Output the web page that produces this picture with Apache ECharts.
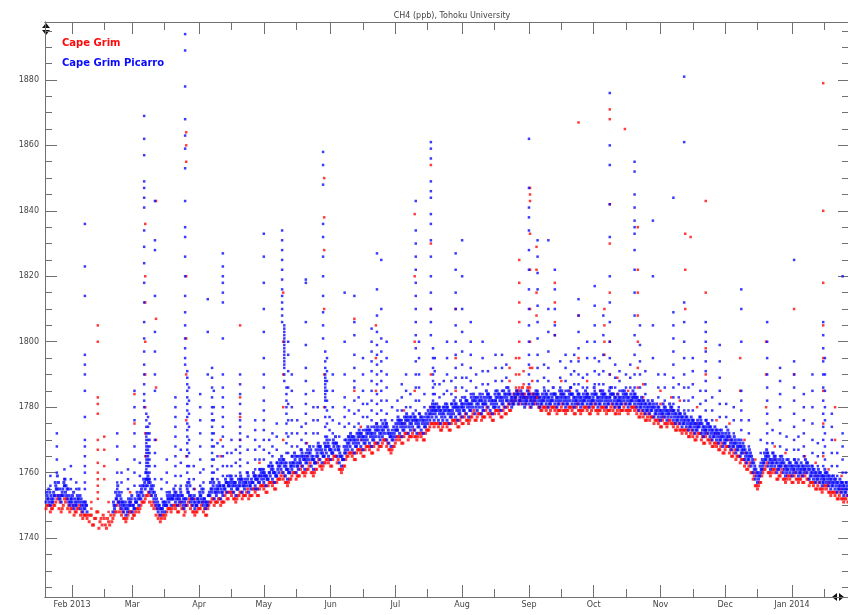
<!DOCTYPE html>
<html>
<head>
<meta charset="utf-8">
<script src="https://cdn.jsdelivr.net/npm/echarts@6/dist/echarts.min.js"></script>
<style>html,body{margin:0;padding:0;background:#fff}#c{width:848px;height:615px}</style>
</head>
<body>
<div id="c"></div>
<script>
// ---------- DATA ----------
// Days counted from 2013-01-01 (day 0). Daily series start at day 19.
const FIRST_DAY = 19;
const xMin = '2013-01-19T12:00', xMax = '2014-01-27T00:00';
const yMin = 1722, yMax = 1897.7;
const yLabels = [1740, 1760, 1780, 1800, 1820, 1840, 1860, 1880];
const monthTicks = ['2013-02-01','2013-03-01','2013-04-01','2013-05-01','2013-06-01','2013-07-01','2013-08-01','2013-09-01','2013-10-01','2013-11-01','2013-12-01','2014-01-01'];
const monthLabels = ['Feb 2013','Mar','Apr','May','Jun','Jul','Aug','Sep','Oct','Nov','Dec','Jan 2014'];
const midTicks = ['2013-02-16','2013-03-16','2013-04-16','2013-05-16','2013-06-16','2013-07-16','2013-08-16','2013-09-16','2013-10-16','2013-11-16','2013-12-16','2014-01-16'];

// Cape Grim Picarro (blue): daily values at 00h
const picarroA = [
1751,1752,1750,1751,1753,1755,1752,1751,1753,1754,
1752,1750,1751,1749,1750,1752,1749,1748,1749,1748,
null,null,null,null,null,null,null,null,null,null,
null,1748,1750,1753,1751,1749,1748,1747,1749,1750,
1748,1749,1751,1750,1752,1753,1755,1756,1754,1753,
1752,1750,1748,1747,1749,1748,1750,1751,1750,1752,
1751,1750,1752,1751,1749,1752,1754,1751,1750,1749,
1750,1751,1752,1750,1749,1751,1753,1754,1752,1753,
1754,1752,1753,1755,1754,1756,1755,1754,1753,1755,
1756,1754,1755,1756,1754,1755,1757,1756,1755,1757,
1758,1757,1756,1758,1759,1758,1757,1759,1760,1761,
1760,1759,1758,1760,1761,1762,1760,1761,1763,1762,
1761,1763,1764,1762,1761,1763,1765,1764,1763,1765,
1766,1765,1764,1766,1767,1765,1763,1762,1764,1766,
1767,1768,1767,1766,1768,1769,1768,1767,1769,1770,
1769,1768,1770,1771,1769,1770,1771,1772,1770,1769,
1768,1770,1771,1773,1772,1771,1773,1774,1772,1773,
1774,1773,1772,1774,1773,1772,1774,1775,1776,1777,
1776,1777,1776,1775,1776,1777,1776,1775,1777,1778,
1777,1776,1778,1777,1779,1778,1777,1779,1780,1778,
1779,1780,1778,1779,1781,1780,1779,1778,1780,1781,
1780,1779,1781,1780,1782,1781,1780,1781,1782,1781,
1782,1781,1780,1782,1781,1780,1781,1782,1781,1780,
1781,1782,1781,1780,1781,1782,1781,1780,1781,1782,
1781,1780,1781,1782,1781,1780,1782,1781,1780,1781,
1782,1781,1780,1781,1782,1781,1780,1781,1782,1781,
1780,1781,1782,1781,1780,1781,1780,1781,1782,1781,
1780,1781,1782,1781,1780,1779,1780,1779,1778,1779,
1778,1779,1777,1778,1777,1776,1778,1777,1776,1778,
1777,1776,1775,1776,1775,1774,1775,1774,1773,1774,
1773,1772,1773,1774,1772,1771,1773,1772,1771,1770,
1771,1770,1769,1770,1768,1769,1770,1768,1767,1768,
1766,1767,1765,1766,1764,1763,1764,1762,1760,1758,
1757,1759,1761,1763,1764,1762,1761,1763,1762,1760,
1761,1762,1760,1759,1761,1760,1759,1761,1760,1759,
1760,1759,1761,1760,1758,1759,1758,1757,1758,1757,
1756,1758,1757,1756,1755,1756,1755,1754,1755,1754,
1753,1754,1753];
// Cape Grim Picarro (blue): daily values at 06h
const picarroC = [
1754,1755,1753,1752,1757,1759,1755,1753,1757,1756,
1755,1751,1753,1752,1751,1755,1752,1750,1751,null,
null,null,null,null,null,null,null,null,null,null,
null,1751,1754,1756,1753,1751,1750,1749,1752,1751,
1750,1752,1754,1753,1755,1758,1760,1759,1757,1755,
1754,1752,1750,1749,1751,1750,1753,1754,1752,1755,
1754,1752,1755,1753,1751,1756,1757,1753,1752,1751,
1752,1754,1755,1752,1751,1753,1757,1758,1755,1756,
1757,1755,1756,1758,1757,1759,1758,1756,1756,1758,
1759,1757,1758,1760,1757,1758,1760,1759,1758,1761,
1761,1760,1759,1762,1763,1761,1760,1763,1764,1765,
1764,1762,1761,1763,1765,1766,1763,1765,1767,1765,
1765,1767,1768,1765,1764,1767,1769,1768,1766,1769,
1770,1768,1767,1770,1771,1768,1766,1765,1768,1770,
1771,1772,1771,1770,1772,1773,1772,1771,1773,1774,
1773,1772,1774,1775,1773,1774,1775,1776,1774,1772,
1772,1774,1775,1777,1776,1775,1777,1778,1776,1777,
1778,1777,1776,1778,1777,1776,1778,1779,1780,1781,
1780,1781,1780,1779,1780,1781,1780,1779,1781,1782,
1781,1780,1782,1781,1783,1782,1781,1783,1784,1782,
1783,1784,1782,1783,1785,1784,1783,1782,1784,1785,
1784,1783,1785,1784,1786,1784,1783,1784,1785,1784,
1785,1784,1783,1785,1784,1783,1784,1785,1784,1783,
1784,1785,1784,1783,1784,1786,1784,1783,1785,1785,
1784,1783,1785,1786,1784,1783,1785,1784,1783,1784,
1785,1784,1783,1784,1786,1784,1783,1785,1785,1784,
1783,1785,1786,1784,1783,1784,1783,1785,1785,1784,
1783,1784,1785,1784,1783,1782,1783,1782,1781,1782,
1781,1782,1780,1781,1780,1779,1781,1780,1779,1781,
1780,1779,1778,1779,1778,1777,1778,1777,1776,1777,
1776,1775,1776,1777,1775,1774,1776,1775,1774,1773,
1774,1773,1772,1773,1771,1772,1773,1771,1770,1771,
1769,1770,1768,1769,1767,1766,1767,1765,1763,1761,
1760,1762,1764,1766,1767,1765,1764,1766,1765,1763,
1764,1765,1763,1762,1764,1763,1762,1764,1763,1762,
1763,1762,1764,1763,1761,1762,1761,1760,1761,1760,
1759,1761,1760,1759,1758,1759,1758,1757,1758,1757,
1756,1757,1756];
// Cape Grim Picarro (blue): daily values at 12h
const picarroB = [
1753,1751,1752,1754,1756,1753,1752,1754,1756,1753,
1751,1752,1750,1751,1753,1751,1750,1749,1750,null,
null,null,null,null,null,null,null,null,null,null,
null,1750,1752,1751,1750,1751,1749,1750,1751,1752,
1750,1751,1753,1752,1754,1756,1758,1757,1755,1754,
1751,1749,1750,1749,1750,1751,1752,1753,1752,1753,
1752,1753,1754,1750,1752,1755,1753,1752,1751,1750,
1752,1753,1751,1752,1750,1753,1755,1756,1754,1755,
1756,1754,1756,1757,1756,1757,1756,1757,1755,1756,
1758,1756,1757,1758,1756,1757,1759,1758,1757,1759,
1759,1759,1758,1760,1761,1760,1759,1761,1762,1763,
1762,1761,1760,1762,1763,1764,1762,1763,1765,1764,
1763,1765,1766,1764,1763,1765,1767,1766,1765,1767,
1768,1767,1766,1768,1769,1767,1765,1764,1766,1768,
1769,1770,1769,1768,1770,1771,1770,1769,1771,1772,
1771,1770,1772,1773,1771,1772,1773,1774,1772,1771,
1770,1772,1773,1775,1774,1773,1775,1776,1774,1775,
1776,1775,1774,1776,1775,1774,1776,1777,1778,1779,
1778,1779,1778,1777,1778,1779,1778,1777,1779,1780,
1779,1778,1780,1779,1781,1780,1779,1781,1782,1780,
1781,1782,1780,1781,1783,1782,1781,1780,1782,1783,
1782,1781,1783,1782,1784,1782,1781,1783,1784,1782,
1783,1782,1781,1783,1782,1781,1783,1784,1782,1781,
1782,1783,1782,1781,1782,1784,1782,1781,1783,1783,
1782,1781,1783,1784,1782,1781,1783,1782,1781,1782,
1783,1782,1781,1782,1784,1782,1781,1783,1783,1782,
1781,1783,1784,1782,1781,1782,1781,1783,1783,1782,
1781,1782,1783,1782,1781,1780,1781,1780,1779,1780,
1779,1780,1778,1779,1778,1777,1779,1778,1777,1779,
1778,1777,1776,1777,1776,1775,1776,1775,1774,1775,
1774,1773,1774,1775,1773,1772,1774,1773,1772,1771,
1772,1771,1770,1771,1769,1770,1771,1769,1768,1769,
1767,1768,1766,1767,1765,1764,1765,1763,1761,1759,
1758,1760,1762,1764,1765,1763,1762,1764,1763,1761,
1762,1763,1761,1760,1762,1761,1760,1762,1761,1760,
1761,1760,1762,1761,1759,1760,1759,1758,1759,1758,
1757,1759,1758,1757,1756,1757,1756,1755,1756,1755,
1754,1755,1754];
// Cape Grim Picarro (blue): daily values at 18h
const picarroD = [
1752,1754,1751,1753,1755,1757,1753,1755,1758,1755,
1753,1752,1754,1750,1752,1753,1751,1751,1750,null,
null,null,null,null,null,null,null,null,null,null,
null,1749,1752,1754,1752,1750,1751,1748,1750,1753,
1749,1751,1752,1754,1756,1757,1758,1758,1756,1756,
1753,1751,1749,1748,1751,1750,1752,1752,1753,1754,
1753,1751,1753,1752,1750,1754,1756,1752,1753,1750,
1751,1753,1754,1751,1750,1754,1755,1757,1754,1755,
1756,1754,1755,1757,1756,1758,1757,1757,1755,1757,
1758,1756,1757,1759,1756,1757,1759,1758,1759,1760,
1760,1759,1758,1760,1762,1760,1759,1762,1763,1764,
1763,1761,1760,1762,1763,1765,1762,1764,1766,1764,
1764,1766,1767,1764,1763,1766,1768,1767,1765,1768,
1769,1767,1766,1769,1769,1767,1765,1764,1767,1769,
1770,1771,1770,1769,1771,1772,1771,1770,1772,1773,
1772,1771,1773,1774,1772,1773,1774,1775,1773,1771,
1771,1773,1774,1776,1775,1774,1776,1777,1775,1776,
1777,1776,1775,1777,1776,1775,1777,1778,1779,1780,
1779,1780,1779,1778,1779,1780,1779,1778,1780,1781,
1780,1779,1781,1780,1782,1781,1780,1782,1783,1781,
1782,1783,1781,1782,1784,1783,1782,1781,1783,1784,
1783,1782,1784,1783,1785,1783,1782,1783,1784,1783,
1784,1783,1782,1784,1783,1782,1783,1784,1783,1782,
1783,1784,1783,1782,1783,1784,1783,1782,1784,1784,
1783,1782,1784,1784,1783,1782,1784,1783,1782,1783,
1784,1783,1782,1783,1784,1783,1782,1784,1784,1783,
1782,1784,1784,1783,1782,1783,1782,1784,1784,1783,
1782,1783,1784,1783,1782,1781,1782,1781,1780,1781,
1780,1781,1779,1780,1779,1778,1780,1779,1778,1780,
1779,1778,1777,1778,1777,1776,1777,1776,1775,1776,
1775,1774,1775,1776,1774,1773,1775,1774,1773,1772,
1773,1772,1771,1772,1770,1771,1772,1770,1769,1770,
1768,1769,1767,1768,1766,1765,1766,1764,1762,1760,
1759,1761,1763,1765,1766,1764,1763,1765,1764,1762,
1763,1764,1762,1761,1763,1762,1761,1763,1762,1761,
1762,1761,1763,1762,1760,1761,1760,1759,1760,1759,
1758,1760,1759,1758,1757,1758,1757,1756,1757,1756,
1755,1756,1755];
// Cape Grim (red): daily values at 00h
const capeGrimA = [
1749,1750,1748,1749,1750,1752,1749,1748,1750,1751,
1749,1748,1749,1747,1748,1749,1747,1746,1747,1746,
1745,1747,1744,1746,1748,1745,1744,1746,1743,1745,
1747,1746,1748,1750,1748,1747,1746,1745,1747,1748,
1746,1747,1749,1748,1750,1751,1752,1753,1751,1750,
1749,1747,1746,1745,1747,1746,1748,1749,1748,1750,
1749,1748,1750,1749,1747,1750,1751,1749,1748,1747,
1748,1749,1750,1748,1747,1749,1751,1752,1750,1751,
1752,1750,1751,1753,1752,1754,1753,1752,1751,1753,
1754,1752,1753,1754,1752,1753,1755,1754,1753,1755,
1756,1755,1754,1756,1757,1756,1755,1757,1758,1759,
1758,1757,1756,1758,1759,1760,1758,1759,1761,1760,
1759,1761,1762,1760,1759,1761,1763,1762,1761,1763,
1764,1763,1762,1764,1765,1763,1761,1760,1762,1764,
1765,1766,1765,1764,1766,1767,1766,1765,1767,1768,
1767,1766,1768,1769,1767,1768,1769,1770,1768,1767,
1766,1768,1769,1771,1770,1769,1771,1772,1770,1771,
1772,1771,1770,1772,1771,1770,1772,1773,1774,1775,
1774,1775,1774,1773,1774,1775,1774,1773,1775,1776,
1775,1774,1776,1775,1777,1776,1775,1777,1778,1776,
1777,1778,1776,1777,1779,1778,1777,1776,1778,1779,
1778,1777,1779,1778,1780,1779,1782,1784,1783,1785,
1782,1786,1784,1783,1785,1782,1784,1781,1783,1780,
1779,1780,1779,1778,1779,1780,1779,1778,1779,1780,
1779,1778,1779,1780,1779,1778,1780,1779,1778,1779,
1780,1779,1778,1779,1780,1779,1778,1779,1780,1779,
1778,1779,1780,1779,1778,1779,1778,1779,1780,1779,
1778,1779,1780,1779,1778,1777,1778,1777,1776,1777,
1776,1777,1775,1776,1775,1774,1776,1775,1774,1776,
1775,1774,1773,1774,1773,1772,1773,1772,1771,1772,
1771,1770,1771,1772,1770,1769,1771,1770,1769,1768,
1769,1768,1767,1768,1766,1767,1768,1766,1765,1766,
1764,1765,1763,1764,1762,1761,1762,1760,1758,1756,
1755,1757,1759,1761,1762,1760,1759,1761,1760,1758,
1759,1760,1758,1757,1759,1758,1757,1759,1758,1757,
1758,1757,1759,1758,1756,1757,1756,1755,1756,1755,
1754,1756,1755,1754,1753,1754,1753,1752,1753,1752,
1751,1752,1751];
// Cape Grim (red): daily values at 12h
const capeGrimB = [
1750,1750,1749,1750,1751,1753,1751,1749,1752,1752,
1750,1749,1750,1748,1749,1750,1748,1747,1747,1747,
1747,1744,1746,1748,1743,1746,1747,1744,1746,1744,
1745,1747,1748,1751,1749,1748,1746,1746,1748,1748,
1747,1748,1749,1749,1751,1751,1753,1754,1753,1751,
1750,1749,1747,1746,1747,1747,1749,1749,1749,1750,
1750,1748,1751,1749,1748,1750,1752,1750,1748,1748,
1749,1749,1751,1749,1747,1750,1751,1752,1751,1751,
1752,1751,1751,1754,1752,1754,1754,1752,1752,1753,
1754,1753,1753,1755,1753,1753,1755,1755,1753,1756,
1756,1756,1754,1757,1757,1757,1755,1758,1758,1760,
1759,1757,1757,1758,1760,1760,1759,1759,1762,1760,
1760,1761,1763,1760,1760,1761,1764,1762,1762,1763,
1764,1764,1762,1765,1765,1764,1761,1761,1762,1765,
1766,1766,1766,1764,1767,1767,1767,1765,1768,1768,
1768,1766,1769,1769,1768,1768,1770,1770,1769,1767,
1767,1768,1770,1771,1771,1769,1772,1772,1771,1771,
1773,1771,1771,1772,1772,1770,1773,1773,1775,1775,
1775,1775,1775,1773,1775,1775,1775,1773,1776,1776,
1776,1774,1777,1775,1778,1776,1776,1777,1779,1776,
1778,1778,1777,1777,1780,1778,1778,1776,1779,1779,
1779,1777,1780,1778,1781,1779,1781,1782,1785,1781,
1784,1783,1781,1786,1780,1784,1782,1783,1780,1779,
1780,1780,1780,1778,1780,1780,1780,1779,1779,1781,
1779,1779,1780,1780,1780,1778,1781,1779,1779,1780,
1780,1780,1778,1780,1781,1779,1779,1780,1780,1780,
1779,1779,1781,1780,1778,1780,1779,1779,1781,1779,
1779,1780,1780,1780,1779,1777,1779,1778,1776,1778,
1777,1777,1776,1776,1776,1774,1777,1775,1775,1776,
1775,1775,1773,1775,1773,1773,1773,1773,1771,1773,
1772,1770,1772,1772,1771,1769,1772,1770,1770,1768,
1769,1769,1767,1769,1766,1768,1768,1767,1765,1767,
1765,1765,1764,1764,1763,1761,1763,1760,1759,1756,
1756,1757,1760,1761,1763,1760,1760,1761,1761,1758,
1759,1761,1758,1758,1759,1759,1757,1760,1758,1758,
1759,1757,1760,1758,1757,1757,1757,1755,1757,1755,
1755,1756,1756,1754,1754,1754,1754,1752,1754,1752,
1752,1753,1752];

// Pollution episodes: [day, [values during the episode]]
const picarroEpisodes = [
[24,[1760,1764,1768,1772]],[27.5,[1756,1758,1761]],
[37,[1836,1823,1814,1796,1793,1790,1785,1777,1770,1768,1765,1762,1760,1757,1755]],
[52,[1772,1768,1764,1760,1757,1755]],[57,[1755,1758,1761]],
[60,[1785,1780,1776,1772,1768,1764,1760,1756]],
[64.5,[1869,1862,1857,1849,1847,1844,1841,1834,1829,1824,1818,1812,1806,1801,1797,1793,1790,1787,1784,1782,1780]],
[65.5,[1778,1776,1774,1772,1771,1770,1769,1768,1767,1766,1765,1764,1763,1762,1761,1760,1758,1756]],
[66.3,[1777,1774,1772,1770,1768,1767,1766,1765,1764,1763,1762,1760,1758]],
[67,[1775,1772,1770,1768,1766,1764,1762,1760,1758]],
[69.5,[1843,1831,1828,1814,1803,1797,1790,1785,1770,1766,1762,1758]],
[79,[1783,1780,1777,1774,1771,1768,1765,1762,1759,1756]],
[83.5,[1894,1889,1878,1868,1863,1859,1853,1843,1835,1832,1826,1820,1814,1809,1805,1801,1798,1795,1793]],
[84.5,[1791,1789,1787,1785,1783,1781,1779,1777,1775,1773,1771,1769,1767,1765,1762,1760,1757]],
[85.3,[1786,1782,1778,1774,1770,1766,1762,1758]],
[90.5,[1784,1780,1776,1772,1768,1764,1760,1756]],[94,[1813,1803,1790]],
[96,[1792,1789,1786,1783,1780,1778,1776,1774,1772,1770,1768,1766,1764,1762,1760,1758]],
[96.8,[1785,1780,1776,1772,1768,1764,1760]],
[101,[1827,1823,1820,1818,1815,1812,1801,1790,1786,1783,1780,1777,1774,1771,1768,1765,1762,1759]],
[105,[1770,1766,1762,1759]],
[109,[1790,1787,1784,1781,1778,1776,1774,1772,1770,1768,1766,1764,1762,1760,1758]],
[116,[1776,1773,1770,1767,1764,1761,1758,1755]],
[120,[1833,1826,1818,1810,1803,1795,1790,1786,1782,1779,1776,1773,1770,1767,1764,1761,1758]],
[124,[1772,1768,1765,1762]],
[128.5,[1834,1831,1828,1825,1822,1819,1816,1814,1812,1810,1808,1806]],
[129.5,[1805,1804,1803,1802,1801,1800,1799,1798,1797,1796,1795,1794,1793,1792,1790,1788]],
[130.5,[1786,1784,1782,1780,1778,1775,1772,1769,1766,1763]],
[131.3,[1800,1796,1791,1786,1781,1776,1771,1766]],
[133,[1790,1785,1780,1776,1772,1768,1765]],
[139.5,[1819,1818,1806,1799,1792,1788,1784,1781,1778,1775,1772,1769,1766]],
[143,[1785,1780,1776,1772,1768,1765]],
[147.5,[1858,1854,1848,1836,1832,1826,1820,1814,1809,1805,1801]],
[148.5,[1797,1794,1792,1790,1789,1788,1787,1786,1785,1784,1783,1782,1780,1777,1774,1771,1768]],
[149.3,[1795,1791,1788,1785,1782,1779,1775,1771]],
[152,[1790,1785,1780,1776,1772,1769]],
[157.5,[1815,1800,1790,1783,1780,1777,1774,1770]],
[162,[1814,1806,1802,1796,1792,1788,1786,1782,1778,1774,1771]],
[166,[1795,1790,1785,1781,1777,1773]],
[170,[1804,1800,1797,1794,1791,1788,1785,1782,1779,1776,1774]],
[172.5,[1827,1816,1808,1803,1799,1796,1793,1790,1787,1784,1781,1778,1775]],
[174.5,[1825,1810,1801,1797,1794,1791,1788,1785,1782,1779,1776]],
[177,[1800,1795,1790,1786,1782,1778,1775]],
[182,[1782,1779,1776,1773]],[186,[1790,1785,1780,1777]],
[190.5,[1843,1834,1830,1826,1822,1818,1814,1810,1806,1802,1798,1794,1790,1786,1782,1779,1776]],
[192,[1800,1795,1790,1786,1782,1778]],
[197.5,[1861,1859,1856,1849,1846,1844,1839,1836,1831,1826,1820,1815,1810,1806,1802]],
[198.5,[1798,1795,1792,1790,1788,1786,1784,1782,1780,1778]],
[199.3,[1795,1791,1787,1784,1781,1779]],
[205,[1800,1795,1790,1785,1781]],
[209,[1827,1822,1815,1810,1805,1800,1796,1792,1789,1786,1783,1780]],
[212,[1831,1820,1810,1803,1797,1793,1789,1786,1783,1780]],
[216,[1806,1800,1796,1792,1788,1784,1781]],
[221.5,[1800,1795,1791,1787,1784,1781,1779]],
[227.5,[1796,1792,1788,1785,1782,1780]],
[243,[1862,1847,1841,1838,1834,1828,1822,1816,1810,1805,1800,1796,1793,1790,1787,1784]],
[247,[1831,1826,1821,1816,1811,1806,1801,1796,1792,1788,1785]],
[252,[1831,1810,1803,1797,1792,1788,1785]],
[255,[1822,1816,1810,1805,1802]],
[260,[1796,1792,1788,1785]],
[266,[1813,1808,1803,1798,1794,1790,1787,1784]],
[270,[1800,1795,1790,1786,1783]],
[273.5,[1817,1811,1805,1800,1795,1791,1787,1785]],
[277.5,[1808,1802,1796,1791,1787,1784]],
[280.5,[1876,1860,1854,1842,1832,1820,1812,1806,1800,1795,1790,1786,1783]],
[285,[1791,1788,1785,1782,1780]],
[292,[1855,1852,1845,1841,1837,1835,1833,1828,1822,1815,1808,1802,1796,1790,1786,1783]],
[294.5,[1805,1799,1794,1790,1786,1782]],
[300.5,[1837,1820,1805,1795]],
[310,[1844,1809,1805,1801,1797,1793,1789,1786,1783,1781,1779]],
[315,[1881,1861,1812,1806,1800,1795,1790,1786,1782,1779]],
[319,[1795,1791,1787,1783,1779,1776]],
[325,[1806,1803,1800,1797,1794,1791,1788,1785,1782,1779,1776,1773]],
[331.5,[1799,1794,1789,1785,1781,1777,1773]],
[341.5,[1816,1810,1800,1785,1782,1779,1776,1773,1770,1768]],
[353.5,[1806,1800,1795,1790,1786,1782,1778,1775,1772,1769,1766]],
[359.5,[1792,1788,1784,1780,1776,1772,1768,1765]],
[366,[1825,1794,1790,1786,1782,1778,1774,1770,1767,1764]],
[370.5,[1784,1780,1776,1772,1768,1765]],
[374.5,[1790,1785,1780,1775,1770,1766,1762]],
[379.5,[1806,1802,1798,1794,1790,1786,1782,1778,1774,1770,1766,1762,1759,1757]],
[380.3,[1795,1790,1785,1780,1776,1772,1768,1764,1760]],
[383.5,[1778,1774,1770,1766,1762,1759]],
[388.5,[1820,1772,1768,1764,1760,1757]]
];
// Short excursions just above the baseline
const picarroSmall = [
[21,[1756,1759]],[30.5,[1755,1758,1762]],[33,[1755,1757]],[54,[1754,1757,1760]],
[62.5,[1756,1759,1763]],[72.5,[1752,1755,1758]],[75,[1754,1757,1760,1764]],[81.5,[1756,1759,1763,1767]],
[87.5,[1755,1758,1762]],[92,[1755,1757,1761]],[98.5,[1758,1761,1765,1769]],[103,[1759,1762,1766]],
[107,[1759,1763,1767]],[112.5,[1760,1763,1767,1771]],[118,[1761,1764,1768]],[122.5,[1762,1766,1770]],
[126,[1763,1767,1771,1775]],[135.5,[1765,1768,1772,1776]],[137.5,[1767,1770,1774]],[145,[1768,1772,1776,1780]],
[150.5,[1770,1773,1777]],[155,[1768,1771,1775]],[159.5,[1771,1775,1779]],[164,[1772,1775,1779,1783]],
[168,[1773,1777,1781]],[179.5,[1773,1776,1780]],[184,[1776,1779,1783,1787]],[188,[1777,1780,1784]],
[194.5,[1777,1780,1784]],[201.5,[1780,1783,1787]],[203.5,[1780,1784,1788]],[207,[1781,1784,1788]],
[214,[1782,1785,1789]],[218.5,[1783,1786,1790]],[224,[1784,1787,1791]],[230.5,[1785,1788,1792,1796]],
[232.5,[1786,1789,1793]],[250,[1786,1789,1793]],[257.5,[1786,1789,1794]],[262.5,[1786,1790,1794]],
[264,[1787,1791,1796]],[268,[1786,1789]],[275.5,[1787,1790,1794]],[283,[1786,1789,1793]],
[288,[1786,1790]],[290,[1786,1789,1793]],[297,[1784,1787,1791]],[303,[1783,1786,1790]],
[306,[1782,1786,1790]],[312.5,[1780,1783,1787]],[317,[1779,1782,1786]],[322.5,[1777,1781,1785]],
[328,[1776,1779,1783]],[334.5,[1774,1777,1781]],[338,[1772,1776,1780]],[345,[1768,1772,1776]],
[350.5,[1763,1766,1770]],[356,[1766,1769,1773]],[362.5,[1764,1767,1771]],[368,[1764,1767,1771]],
[377,[1762,1765,1769]],[386,[1759,1762,1766]],[390,[1757,1760]]
];
const capeGrimEpisodes = [
[43,[1805,1800,1783,1781,1778,1770,1767,1763,1760,1758,1756,1754,1752]],
[46,[1771,1767,1762,1758]],[60,[1784,1775]],
[65,[1836,1820,1812,1800,1790,1780,1772,1765]],
[70,[1843,1807,1786,1770]],
[84,[1864,1860,1855,1820,1801,1790,1776,1765]],
[100,[1770,1765]],[109,[1805,1783,1777,1770]],
[129,[1815,1800,1790,1780,1770]],
[148,[1850,1838,1828,1810,1790,1780]],
[162,[1807,1785]],[172,[1805,1795,1785]],
[190,[1839,1820,1800,1785]],
[197.5,[1854,1830,1810,1790,1780]],
[209,[1810,1795,1785]],
[238.5,[1825,1818,1812,1806,1800,1795,1790,1786,1782]],
[243.5,[1847,1845,1843,1833,1822,1810,1800,1792,1786]],
[246.5,[1829,1822,1815,1808]],
[255,[1818,1812,1806,1802]],
[266,[1867,1808,1795]],
[278,[1810,1805,1800,1796]],
[280.5,[1871,1868,1842,1830,1815,1800,1790]],
[287.5,[1865]],
[293.5,[1835,1822,1815,1808,1800,1792,1786]],
[315.5,[1833,1822,1810]],[318,[1832]],
[325,[1843,1815,1798,1790]],
[341,[1795,1785]],[353,[1800,1790,1780]],[366,[1810,1790]],
[379.5,[1879,1840,1818,1805,1795,1785,1775,1765]],
[385,[1780,1770]]
];
const capeGrimSmall = [
[40,[1749,1751]],[48,[1748,1751]],[58,[1751,1754]],[88,[1752,1755]],[118,[1759,1763]],
[140,[1765,1769]],[165,[1770,1774]],[185,[1775,1779]],[234,[1784,1788,1792]],[237,[1786,1790,1795]],
[240.5,[1787,1791]],[244.5,[1788,1792]],[258,[1784,1788]],[262,[1785]],[270,[1784,1788]],
[276,[1785]],[284,[1784,1789]],[289,[1785]],[296,[1783,1787]],[304,[1781,1785]],
[309,[1779,1783]],[313,[1778,1782]],[321,[1775,1780]],[330,[1772,1776]],[336,[1770,1775]],
[343,[1766,1770]],[348,[1760,1764]],[357,[1764,1768]],[362,[1762,1766]],[371,[1761,1765]],
[376,[1759,1763]],[382,[1757,1761]],[388,[1755,1759]]
];

// ---------- BUILD ----------
const DAY = 86400000, T0 = Date.UTC(2013, 0, 1);
const toT = d => T0 + d * DAY;
const parseD = s => { const p = s.split('T')[0].split('-').map(Number); let t = Date.UTC(p[0], p[1]-1, p[2]); if (s.includes('T')) { const h = s.split('T')[1].split(':').map(Number); t += h[0]*3600000 + h[1]*60000; } return t; };
function daily(arr, off) { const out = []; arr.forEach((v, i) => { if (v != null) out.push([toT(FIRST_DAY + i + off), v]); }); return out; }
function episodes(list) { const out = []; list.forEach(([d, vals]) => vals.forEach(v => out.push([toT(d), v]))); return out; }

const RED = '#ff0a0a', BLUE = '#0a0aff';
const monthT = monthTicks.map(parseD), midT = midTicks.map(parseD);
const X0 = parseD(xMin), X1 = parseD(xMax);
const yMinor = []; for (let v = 1725; v < yMax; v += 5) if (v % 20 !== 0) yMinor.push(v);
const AX = '#707070', TXT = '#444';
const font = 'DejaVu Sans';

function xAx(pos, vals, len, labels) {
  return { type: 'value', position: pos, min: X0, max: X1, scale: true,
    axisLine: { show: true, onZero: false, lineStyle: { color: AX, width: 1 } },
    axisTick: { show: true, inside: true, length: len, customValues: vals, lineStyle: { color: AX } },
    axisLabel: labels ? { show: true, customValues: vals, color: TXT, fontSize: 8, fontFamily: font, margin: 4,
      formatter: v => { const i = monthT.indexOf(v); return i >= 0 ? monthLabels[i] : ''; } } : { show: false },
    splitLine: { show: false } };
}
function yAx(pos, vals, len, labels) {
  return { type: 'value', position: pos, min: yMin, max: yMax, scale: true,
    axisLine: { show: true, onZero: false, lineStyle: { color: AX, width: 1 } },
    axisTick: { show: true, inside: true, length: len, customValues: vals, lineStyle: { color: AX } },
    axisLabel: labels ? { show: true, customValues: vals, color: TXT, fontSize: 8, fontFamily: font, margin: 6,
      formatter: v => String(v) } : { show: false },
    splitLine: { show: false } };
}
const pt = (name, color, size, data) => ({ name, type: 'scatter', symbol: 'rect', symbolSize: size,
  itemStyle: { color }, data, emphasis: { disabled: true } });

const chart = echarts.init(document.getElementById('c'), null, { renderer: 'canvas' });
chart.setOption({
  animation: false,
  backgroundColor: '#fff',
  title: { text: 'CH4 (ppb), Tohoku University', left: 447, top: 7, textAlign: 'center',
    textStyle: { fontSize: 8, fontWeight: 'normal', color: TXT, fontFamily: font } },
  legend: { orient: 'vertical', left: 52, top: 32, itemGap: 8, itemWidth: 0, itemHeight: 0, selectedMode: false,
    textStyle: { fontSize: 10, fontWeight: 'bold', fontFamily: font, lineHeight: 12 },
    data: [{ name: 'Cape Grim', icon: 'none', textStyle: { color: RED } },
           { name: 'Cape Grim Picarro', icon: 'none', textStyle: { color: BLUE } }] },
  grid: { left: 45, right: 0, top: 22, bottom: 18 },
  xAxis: [ xAx('bottom', monthT, 12, true), xAx('bottom', midT, 8, false),
           xAx('top', monthT, 12, false), xAx('top', midT, 8, false) ],
  yAxis: [ yAx('left', yLabels, 12, true), yAx('left', yMinor, 7, false),
           yAx('right', yLabels, 10, false), yAx('right', yMinor, 6, false) ],
  series: [
    pt('Cape Grim', RED, 3, daily(capeGrimA, 0).concat(daily(capeGrimB, 0.5))),
    pt('Cape Grim', RED, 2.5, episodes(capeGrimEpisodes).concat(episodes(capeGrimSmall))),
    pt('Cape Grim Picarro', BLUE, 3, daily(picarroA, 0).concat(daily(picarroC, 0.25), daily(picarroB, 0.5), daily(picarroD, 0.75))),
    pt('Cape Grim Picarro', BLUE, 2.5, episodes(picarroEpisodes).concat(episodes(picarroSmall)))
  ],
  graphic: [
    { type: 'polygon', shape: { points: [[42,28],[50,28],[46,23]] }, style: { fill: '#111' } },
    { type: 'polygon', shape: { points: [[42,30],[50,30],[46,35]] }, style: { fill: '#111' } },
    { type: 'polygon', shape: { points: [[837,593],[837,601],[832,597]] }, style: { fill: '#111' } },
    { type: 'polygon', shape: { points: [[839,593],[839,601],[844,597]] }, style: { fill: '#111' } }
  ]
});
</script>
</body>
</html>
